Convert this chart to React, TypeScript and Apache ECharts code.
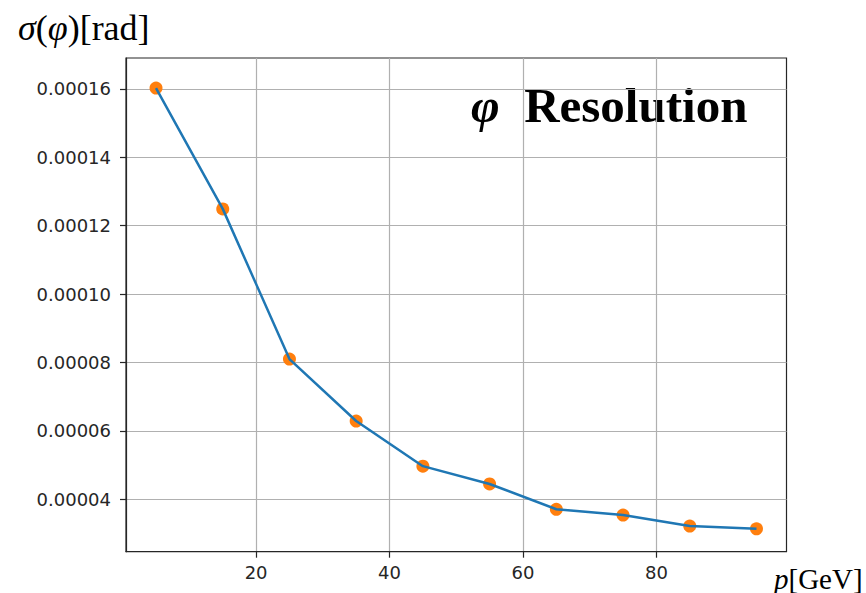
import React, { useEffect, useRef } from "react";
import * as echarts from "echarts";

const momentum = [5, 15, 25, 35, 45, 55, 65, 75, 85, 95];
const sigmaPhi = [0.0001602, 0.0001249, 0.000081, 0.0000629, 0.0000497, 0.0000445, 0.0000371, 0.0000354, 0.0000322, 0.0000314];
const xTicks = [20, 40, 60, 80];
const yTicks = [0.00004, 0.00006, 0.00008, 0.0001, 0.00012, 0.00014, 0.00016];

export default function App() {
  const ref = useRef<HTMLDivElement>(null);
  useEffect(() => {
    if (!ref.current) return;
    const chart = echarts.init(ref.current, null, { renderer: "svg" });
    const pts = momentum.map((x, i) => [x, sigmaPhi[i]]);
    const tickFont = { fontFamily: "DejaVu Sans", fontSize: 18, color: "#262626" };
    chart.setOption({
      animation: false,
      backgroundColor: "#ffffff",
      grid: { left: 126, top: 58, right: 79.5, bottom: 41.3, show: true, borderColor: "#262626", borderWidth: 1.2 },
      xAxis: {
        type: "value",
        min: 0.5,
        max: 99.5,
        axisLine: { show: true, lineStyle: { color: "#262626", width: 1.2 } },
        axisTick: { show: true, length: 6, customValues: xTicks, lineStyle: { color: "#262626", width: 1.2 } },
        axisLabel: { ...tickFont, margin: 12, customValues: xTicks },
        splitLine: { show: true, lineStyle: { color: "#b0b0b0", width: 1.2 } },
      },
      yAxis: {
        type: "value",
        min: 0.0000247,
        max: 0.000169,
        axisLine: { show: true, lineStyle: { color: "#262626", width: 1.2 } },
        axisTick: { show: true, length: 6, customValues: yTicks, lineStyle: { color: "#262626", width: 1.2 } },
        axisLabel: { ...tickFont, margin: 15, customValues: yTicks, formatter: (v: number) => v.toFixed(5) },
        splitLine: { show: true, lineStyle: { color: "#b0b0b0", width: 1.2 } },
      },
      series: [
        {
          type: "scatter",
          data: pts,
          symbolSize: 13,
          itemStyle: { color: "#ff7f0e", opacity: 1 },
          z: 2,
        },
        {
          type: "line",
          data: pts,
          showSymbol: false,
          lineStyle: { color: "#1f77b4", width: 2.5 },
          z: 3,
        },
      ],
      graphic: [
        {
          type: "text",
          left: 18,
          top: 10,
          style: {
            text: "{i|σ}({i|φ})[rad]",
            fontFamily: "Liberation Serif",
            fontSize: 36,
            fill: "#000",
            rich: { i: { fontStyle: "italic", fontFamily: "Liberation Serif", fontSize: 36 } },
          },
        },
        {
          type: "text",
          left: 471,
          top: 81,
          style: {
            text: "{i|φ}  Resolution",
            fontFamily: "Liberation Serif",
            fontWeight: "bold",
            fontSize: 49,
            fill: "#000",
            rich: { i: { fontStyle: "italic", fontWeight: "bold", fontFamily: "Liberation Serif", fontSize: 49 } },
          },
        },
        {
          type: "text",
          left: 774,
          top: 564,
          style: {
            text: "{i|p}[GeV]",
            fontFamily: "Liberation Serif",
            fontSize: 29,
            fill: "#000",
            rich: { i: { fontStyle: "italic", fontFamily: "Liberation Serif", fontSize: 29 } },
          },
        },
      ],
    });
    return () => chart.dispose();
  }, []);
  return <div ref={ref} style={{ position: "fixed", left: 0, top: 0, width: 866, height: 593 }} />;
}
